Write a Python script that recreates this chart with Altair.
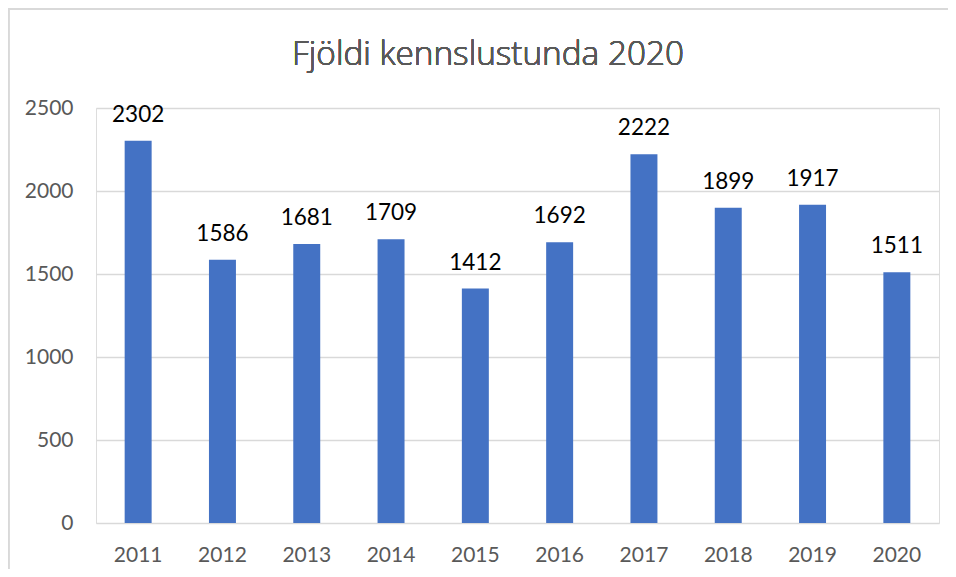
import altair as alt
import pandas as pd

years = ["2011", "2012", "2013", "2014", "2015", "2016", "2017", "2018", "2019", "2020"]
hours = [2302, 1586, 1681, 1709, 1412, 1692, 2222, 1899, 1917, 1511]
y_ticks = [0, 500, 1000, 1500, 2000, 2500]
title_text = "Fjöldi kennslustunda 2020"

df = pd.DataFrame({"year": years, "hours": hours})

FONT = "Lato"
GRAY = "#595959"
GRID = "#D9D9D9"
BAR = "#4472C4"

x_enc = alt.X(
    "year:N",
    sort=years,
    scale=alt.Scale(paddingInner=0.68, paddingOuter=0.34),
    axis=alt.Axis(title=None, labelAngle=0, domain=False, ticks=False,
                  labelFontSize=21, labelColor=GRAY, labelFont=FONT, labelPadding=21),
)
y_enc = alt.Y(
    "hours:Q",
    scale=alt.Scale(domain=[0, 2500], nice=False),
    axis=alt.Axis(title=None, values=y_ticks, format="d", domain=False, ticks=False,
                  labelFontSize=21, labelColor=GRAY, labelFont=FONT, labelPadding=23,
                  gridColor=GRID, gridWidth=1.3),
)

base = alt.Chart(df)
bars = base.mark_bar(color=BAR).encode(x=x_enc, y=y_enc)
labels = base.mark_text(font=FONT, fontSize=22.5, color="black", baseline="alphabetic", dy=-19).encode(
    x=alt.X("year:N", sort=years), y=alt.Y("hours:Q"), text=alt.Text("hours:Q", format="d")
)
title = alt.Chart(df).mark_text(font="Open Sans", fontSize=33.3, fontWeight=300, color=GRAY,
                                baseline="alphabetic", align="center").encode(
    x=alt.value(392), y=alt.value(-43), text=alt.value(title_text)
)
border_left = alt.Chart(df).mark_rule(color=GRID, strokeWidth=1.5).encode(
    x=alt.value(-87.5), y=alt.value(-100), y2=alt.value(470)
)
border_top = alt.Chart(df).mark_rule(color=GRID, strokeWidth=1.5).encode(
    x=alt.value(-88), x2=alt.value(860), y=alt.value(-99)
)

chart = alt.layer(border_left, border_top, bars, labels, title).properties(
    width=843,
    height=415,
    autosize=alt.AutoSizeParams(type="none"),
    padding={"left": 88, "top": 100, "right": 9, "bottom": 46},
).configure_view(stroke=None).configure(background="white")

chart.save("out.html", embed_options={"renderer": "svg", "actions": False})
